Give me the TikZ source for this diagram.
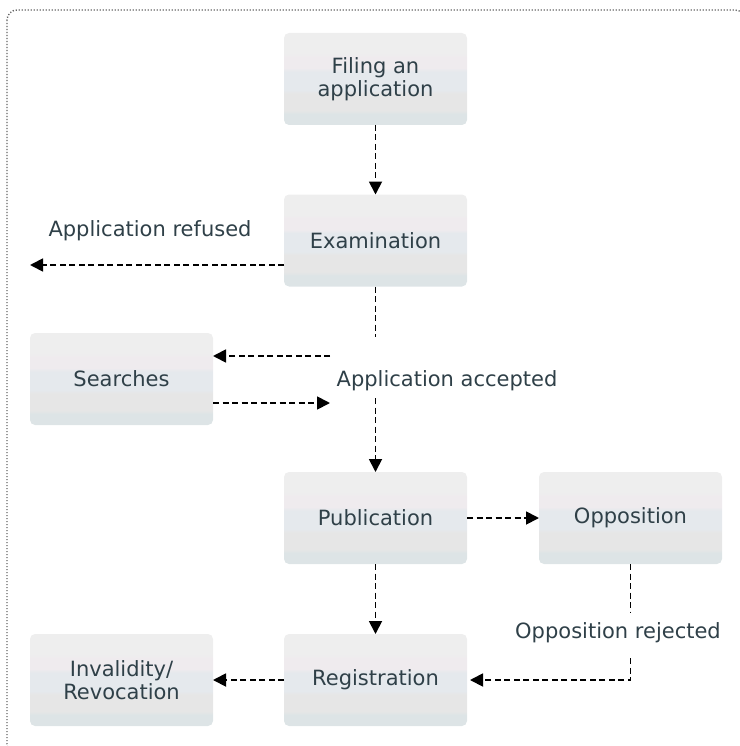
\documentclass[tikz,border=0pt]{standalone}
\usepackage{fontspec}
\setmainfont{DejaVu Sans}
\usetikzlibrary{arrows.meta}
\definecolor{txt}{HTML}{2F4048}
\definecolor{ba}{HTML}{DDE4E6}
\definecolor{bb}{HTML}{E6E6E6}
\definecolor{bc}{HTML}{E5E9ED}
\definecolor{bd}{HTML}{EFEBEE}
\definecolor{be}{HTML}{EEEEEE}
\pgfdeclareverticalshading{boxshade}{100bp}{color(0bp)=(ba); color(31bp)=(ba); color(33bp)=(bb); color(42bp)=(bb); color(44bp)=(bc); color(54bp)=(bc); color(56bp)=(bd); color(62bp)=(bd); color(64bp)=(be); color(100bp)=(be)}
\tikzset{
  box/.style={rectangle, rounded corners=5pt, minimum width=183pt, minimum height=92pt,
    shading=boxshade, text=txt, font=\fontsize{21}{23}\selectfont, align=center,
    inner sep=0pt, outer sep=0pt},
  lbl/.style={text=txt, font=\fontsize{21}{23}\selectfont, inner sep=0pt},
  flowline/.style={draw=black, line width=1.8pt, dash pattern=on 6pt off 3.5pt},
  flow/.style={flowline, -{Triangle[length=13pt,width=13pt]}},
  frame/.style={draw=black!60, line width=1.4pt, dash pattern=on 1.2pt off 1.8pt, rounded corners=10pt}
}
\begin{document}
\begin{tikzpicture}[x=1pt,y=-1pt]
\useasboundingbox (0,0) rectangle (739,746);
\draw[frame] (7,10) rectangle (745,754);

\node[box] (filing) at (375.5,79) {Filing an\\application};
\node[box] (exam) at (375.5,240.5) {Examination};
\node[box] (searches) at (121.5,379) {Searches};
\node[box] (pub) at (375.5,518) {Publication};
\node[box] (opp) at (630.5,518) {Opposition};
\node[box] (inval) at (121.5,680) {Invalidity/\\Revocation};
\node[box] (reg) at (375.5,680) {Registration};

\node[lbl] (refused) at (150,231) {Application refused};
\node[lbl] (accepted) at (447,381) {Application accepted};
\node[lbl] (rejected) at (618,633) {Opposition rejected};

\coordinate (refend) at (30,265);
\coordinate (acctop) at (375.5,337);
\coordinate (accbot) at (375.5,398);
\coordinate (srchin) at (330,356);
\coordinate (srchout) at (330,403);
\coordinate (opptop) at (630.5,612);
\coordinate (oppbot) at (630.5,658);

\draw[flow] (filing) -- (exam);
\draw[flow] (exam.west |- refend) -- (refend);
\draw[flowline] (exam.south) -- (acctop);
\draw[flow] (accbot) -- (pub);
\draw[flow] (srchin) -- (searches.east |- srchin);
\draw[flow] (searches.east |- srchout) -- (srchout);
\draw[flow] (pub) -- (opp);
\draw[flow] (pub) -- (reg);
\draw[flowline] (opp.south) -- (opptop);
\draw[flow] (oppbot) -- (oppbot |- reg) -- ([xshift=3pt]reg.east);
\draw[flow] (reg) -- (inval);
\end{tikzpicture}
\end{document}
